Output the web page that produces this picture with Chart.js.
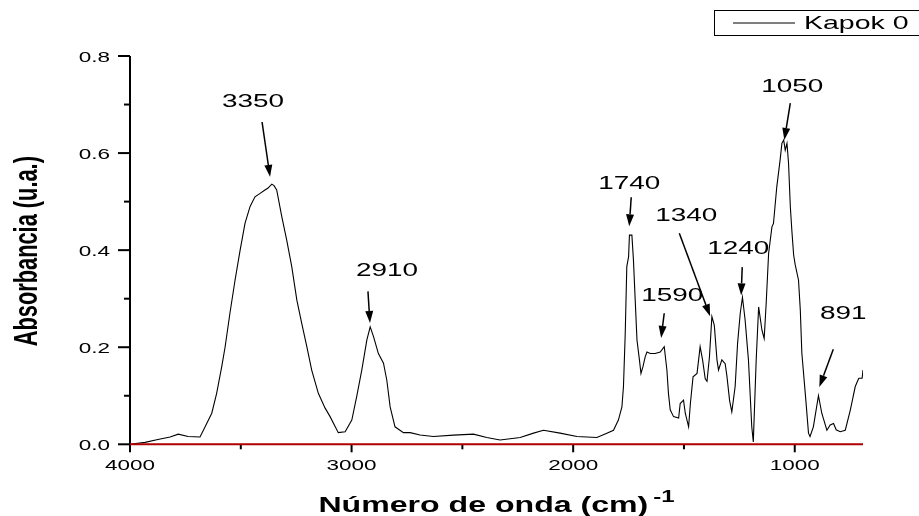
<!DOCTYPE html>
<html lang="pt-BR">
<head>
<meta charset="UTF-8">
<title>Kapok 0 - FTIR</title>
<script src="https://cdn.jsdelivr.net/npm/chart.js"></script>
<style>
    body {
        margin: 0;
        background: #fff;
    }
    #wrap {
        width: 919px;
        height: 516px;
    }
</style>
</head>
<body>
<div id="wrap"><canvas id="grafico" width="919" height="516"></canvas></div>

<script>
    // espectro (cm-1 / u.a.)
    const numeroOnda = [4000, 3932, 3874, 3819, 3782, 3738, 3684, 3661, 3631, 3609, 3586, 3571, 3549, 3526, 3503, 3481, 3458, 3436, 3413, 3391,
        3377, 3360, 3350, 3338, 3315, 3293, 3270, 3247, 3225, 3202, 3180, 3150, 3120, 3097, 3060, 3029, 2999, 2977, 2954, 2931,
        2916, 2901, 2879, 2856, 2841, 2826, 2804, 2766, 2736, 2691, 2631, 2540, 2450, 2390, 2330, 2239, 2179, 2134, 2059, 1983,
        1893, 1848, 1818, 1796, 1780, 1773, 1765, 1758, 1750, 1746, 1735, 1728, 1720, 1712, 1701, 1694, 1685, 1675, 1667, 1652,
        1630, 1607, 1589, 1577, 1570, 1562, 1547, 1524, 1517, 1502, 1494, 1479, 1471, 1459, 1441, 1427, 1416, 1404, 1396, 1385,
        1374, 1363, 1351, 1344, 1329, 1314, 1306, 1294, 1284, 1269, 1258, 1246, 1236, 1224, 1209, 1194, 1187, 1174, 1163, 1148,
        1138, 1129, 1118, 1103, 1096, 1081, 1066, 1058, 1050, 1043, 1035, 1028, 1020, 1013, 1005, 998, 983, 975, 968, 950,
        938, 931, 916, 893, 878, 855, 840, 825, 813, 795, 772, 749, 727, 711, 696, 692];
    const absorbancia = [0.0, 0.004, 0.01, 0.015, 0.021, 0.016, 0.015, 0.036, 0.064, 0.105, 0.16, 0.2, 0.27, 0.338, 0.4, 0.455, 0.49, 0.51, 0.517, 0.524,
        0.528, 0.536, 0.533, 0.524, 0.469, 0.421, 0.366, 0.297, 0.249, 0.201, 0.153, 0.105, 0.075, 0.057, 0.024, 0.026, 0.05, 0.098, 0.153, 0.215,
        0.242, 0.222, 0.187, 0.167, 0.132, 0.077, 0.036, 0.024, 0.024, 0.019, 0.016, 0.019, 0.021, 0.014, 0.009, 0.014, 0.023, 0.029, 0.023, 0.016,
        0.014, 0.023, 0.029, 0.05, 0.077, 0.119, 0.229, 0.366, 0.386, 0.431, 0.431, 0.38, 0.297, 0.215, 0.174, 0.146, 0.16, 0.18, 0.19, 0.187,
        0.187, 0.19, 0.201, 0.153, 0.105, 0.071, 0.057, 0.054, 0.084, 0.091, 0.064, 0.036, 0.084, 0.139, 0.146, 0.201, 0.174, 0.135, 0.13, 0.18,
        0.263, 0.245, 0.174, 0.153, 0.174, 0.166, 0.14, 0.09, 0.067, 0.119, 0.208, 0.27, 0.303, 0.256, 0.174, 0.036, 0.005, 0.174, 0.283, 0.235,
        0.218, 0.29, 0.393, 0.448, 0.455, 0.531, 0.586, 0.62, 0.627, 0.606, 0.62, 0.579, 0.49, 0.44, 0.39, 0.37, 0.338, 0.277, 0.188, 0.091,
        0.023, 0.016, 0.036, 0.1, 0.064, 0.029, 0.04, 0.043, 0.03, 0.026, 0.029, 0.071, 0.119, 0.136, 0.136, 0.153];

    const xMaiores = [4000, 3000, 2000, 1000];
    const xMenores = [3500, 2500, 1500];
    const yMaiores = [0, 0.2, 0.4, 0.6, 0.8];
    const yMenores = [0.1, 0.3, 0.5, 0.7];

    // picos marcados com seta
    const picosRotulo = ['3350', '2910', '1740', '1590', '1340', '1240', '1050', '891'];
    const rotuloX = [3445, 2840, 1747, 1553, 1490, 1255, 1011, 781];
    const rotuloY = [0.695, 0.346, 0.527, 0.296, 0.461, 0.393, 0.725, 0.259];
    const setaDeX = [3404, 2926, 1738, 1589, 1521, 1237, 1020, 826];
    const setaDeY = [0.664, 0.315, 0.509, 0.27, 0.435, 0.365, 0.703, 0.196];
    const setaAteX = [3368, 2917, 1747, 1603, 1382, 1242, 1047, 889];
    const setaAteY = [0.551, 0.25, 0.449, 0.219, 0.264, 0.307, 0.627, 0.118];

    const SX = 1.5; // o original está esticado na horizontal
    const FONTE = '"Liberation Sans", Arial, sans-serif';

    function escreve(ctx, t, x, y, fonte, alinha, sx) {
        ctx.save();
        ctx.font = fonte;
        ctx.translate(x, y);
        ctx.scale(sx, 1);
        ctx.textAlign = alinha;
        ctx.textBaseline = 'alphabetic';
        ctx.fillStyle = '#000';
        ctx.fillText(t, 0, 0);
        ctx.restore();
    }

    function linha(ctx, x1, y1, x2, y2) {
        ctx.beginPath();
        ctx.moveTo(x1, y1);
        ctx.lineTo(x2, y2);
        ctx.stroke();
    }

    const eixos = {
        id: 'eixos',
        afterDatasetsDraw(chart) {
            const ctx = chart.ctx;
            const xs = chart.scales.x, ys = chart.scales.y;
            const a = chart.chartArea;
            ctx.save();
            ctx.strokeStyle = '#000';
            ctx.lineWidth = 2;

            // eixo y
            linha(ctx, a.left, a.top, a.left, a.bottom);
            yMaiores.forEach(v => {
                const p = ys.getPixelForValue(v);
                linha(ctx, a.left - 12, p, a.left, p);
                escreve(ctx, v.toFixed(1), a.left - 20, p + 5.5, '15px ' + FONTE, 'right', SX);
            });
            yMenores.forEach(v => {
                const p = ys.getPixelForValue(v);
                linha(ctx, a.left - 6, p, a.left, p);
            });

            // eixo x
            xMaiores.forEach(v => {
                const p = xs.getPixelForValue(v);
                linha(ctx, p, a.bottom, p, a.bottom + 8);
                escreve(ctx, String(v), p, a.bottom + 26, '15px ' + FONTE, 'center', SX);
            });
            xMenores.forEach(v => {
                const p = xs.getPixelForValue(v);
                linha(ctx, p, a.bottom, p, a.bottom + 5);
            });
            ctx.strokeStyle = '#b00000';
            linha(ctx, a.left, a.bottom, a.right, a.bottom);

            // setas dos picos
            ctx.strokeStyle = '#000';
            ctx.fillStyle = '#000';
            ctx.lineWidth = 1.5;
            picosRotulo.forEach((r, i) => {
                const x1 = xs.getPixelForValue(setaDeX[i]), y1 = ys.getPixelForValue(setaDeY[i]);
                const x2 = xs.getPixelForValue(setaAteX[i]), y2 = ys.getPixelForValue(setaAteY[i]);
                const ang = Math.atan2(y2 - y1, x2 - x1);
                const L = 12, W = 4;
                const bx = x2 - L * Math.cos(ang), by = y2 - L * Math.sin(ang);
                linha(ctx, x1, y1, bx, by);
                ctx.beginPath();
                ctx.moveTo(x2, y2);
                ctx.lineTo(bx + W * Math.sin(ang), by - W * Math.cos(ang));
                ctx.lineTo(bx - W * Math.sin(ang), by + W * Math.cos(ang));
                ctx.closePath();
                ctx.fill();
                escreve(ctx, r, xs.getPixelForValue(rotuloX[i]), ys.getPixelForValue(rotuloY[i]),
                    '18px ' + FONTE, 'center', 1.55);
            });

            // título do eixo x com expoente
            const fx = 'bold 21.4px ' + FONTE, fs = 'bold 16px ' + FONTE;
            const tx = 'Número de onda (cm)', ts = '-1';
            ctx.font = fx;
            const w1 = ctx.measureText(tx).width * SX;
            ctx.font = fs;
            const w2 = ctx.measureText(ts).width * SX;
            const x0 = (a.left + a.right) / 2 - (w1 + 5 + w2) / 2;
            escreve(ctx, tx, x0, 512, fx, 'left', SX);
            escreve(ctx, ts, x0 + w1 + 5, 502, fs, 'left', SX);

            // título do eixo y
            ctx.save();
            ctx.translate(37, (a.top + a.bottom) / 2 + 1);
            ctx.rotate(-Math.PI / 2);
            ctx.scale(1, SX);
            ctx.font = 'bold 21.8px ' + FONTE;
            ctx.textAlign = 'center';
            ctx.fillStyle = '#000';
            ctx.fillText('Absorbancia (u.a.)', 0, 0);
            ctx.restore();

            // legenda
            ctx.strokeStyle = '#000';
            ctx.lineWidth = 1;
            ctx.strokeRect(714.5, 10.5, 260, 25);
            linha(ctx, 733, 23, 795, 23);
            escreve(ctx, chart.data.datasets[0].label, 804, 29, '19px ' + FONTE, 'left', SX);
            ctx.restore();
        }
    };

    new Chart(document.getElementById('grafico'), {
        type: 'line',
        data: {
            datasets: [{
                label: 'Kapok 0',
                data: numeroOnda.map((x, i) => ({ x: x, y: absorbancia[i] })),
                borderColor: '#000',
                borderWidth: 1.1,
                pointRadius: 0,
                tension: 0
            }]
        },
        options: {
            responsive: false,
            animation: false,
            layout: { padding: { top: 56, right: 56, left: 0, bottom: 0 } },
            plugins: { legend: { display: false }, tooltip: { enabled: false } },
            scales: {
                x: {
                    type: 'linear',
                    reverse: true,
                    min: 692,
                    max: 4000,
                    grid: { display: false },
                    border: { display: false },
                    ticks: { display: false },
                    afterBuildTicks: s => { s.ticks = xMaiores.concat(xMenores).map(v => ({ value: v })); },
                    afterFit: s => { s.height = 71.7; }
                },
                y: {
                    min: 0,
                    max: 0.8,
                    grid: { display: false },
                    border: { display: false },
                    ticks: { display: false },
                    afterBuildTicks: s => { s.ticks = yMaiores.concat(yMenores).map(v => ({ value: v })); },
                    afterFit: s => { s.width = 130; }
                }
            }
        },
        plugins: [eixos]
    });
</script>
</body>
</html>
